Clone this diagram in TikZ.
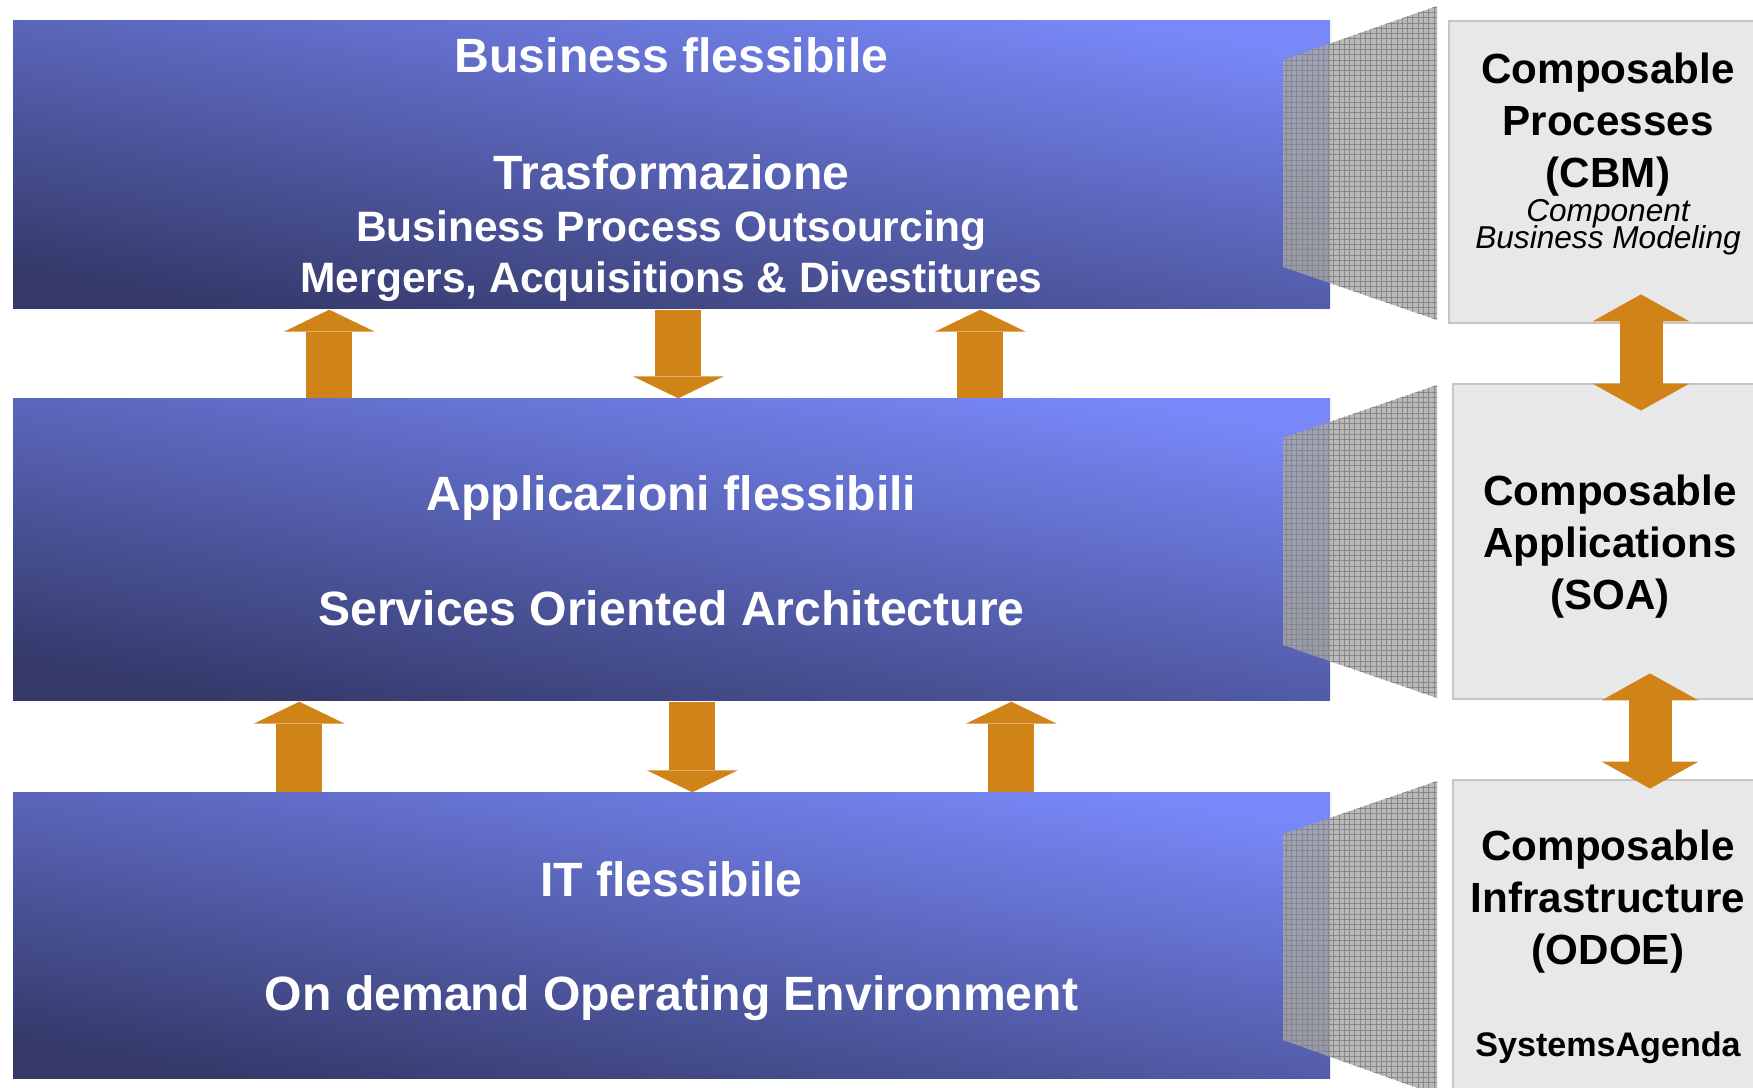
\documentclass[tikz,border=0pt]{standalone}
\usepackage{fontspec}
\setmainfont{Liberation Sans}
\usetikzlibrary{arrows.meta,positioning,calc,patterns.meta}

\definecolor{layerdark}{RGB}{52,57,105}
\definecolor{layerlight}{RGB}{120,136,248}
\definecolor{flowarrow}{RGB}{208,131,22}
\definecolor{meshgray}{RGB}{168,168,168}
\definecolor{meshline}{RGB}{135,135,135}
\definecolor{sidefill}{RGB}{232,232,232}
\definecolor{sideline}{RGB}{198,198,198}

\begin{document}
\begin{tikzpicture}[
  x=0.1mm, y=-0.1mm,
  layer/.style={rectangle,inner sep=0pt,minimum width=131.7mm,
    bottom color=layerdark,top color=layerlight,shading angle=-10},
  side/.style={rectangle,inner sep=0pt,fill=sidefill,draw=sideline,line width=0.8pt},
  mesh/.style={fill=meshgray,fill opacity=.8},
  grid/.style={pattern={Hatch[angle=0,distance=1.5pt,line width=.25pt]},pattern color=meshline},
  head/.style={text=white,anchor=base,inner sep=0pt,font=\bfseries\fontsize{13.7}{16}\selectfont},
  sub/.style={text=white,anchor=base,inner sep=0pt,font=\bfseries\fontsize{12.1}{14}\selectfont},
  comp/.style={anchor=north,align=center,inner sep=0pt,font=\bfseries\fontsize{12}{14.8}\selectfont},
  note/.style={anchor=base,inner sep=0pt,font=\itshape\fontsize{9}{10}\selectfont},
  flow/.style={draw=flowarrow,line width=4.6mm,-{Triangle[length=2.2mm,width=9.1mm,line width=0pt]}},
  both/.style={draw=flowarrow,line width=4.3mm,
    {Triangle[length=2.7mm,width=9.7mm,line width=0pt]}-{Triangle[length=2.7mm,width=9.7mm,line width=0pt]}}
]
\useasboundingbox (0,0) rectangle (1753,1088);
\clip (0,0) rectangle (1753,1088);

% the three layers
\node[layer,minimum height=28.8mm] (biz)   at (671.5,165) {};
\node[layer,minimum height=30.2mm] (app)   at (671.5,550) {};
\node[layer,minimum height=28.6mm] (infra) at (671.5,936) {};

% meshed wings
\fill[mesh] (1283,60) -- (1437,6) -- (1437,320) -- (1283,267) -- cycle;
\path[grid] (1283,60) -- (1437,6) -- (1437,320) -- (1283,267) -- cycle;
\fill[mesh] (1283,438) -- (1437,385) -- (1437,698) -- (1283,645) -- cycle;
\path[grid] (1283,438) -- (1437,385) -- (1437,698) -- (1283,645) -- cycle;
\fill[mesh] (1283,834) -- (1437,781) -- (1437,1095) -- (1283,1040) -- cycle;
\path[grid] (1283,834) -- (1437,781) -- (1437,1095) -- (1283,1040) -- cycle;

% composable boxes
\node[side,minimum width=32.1mm,minimum height=30.2mm] (cbmbox)  at (1609.5,172) {};
\node[side,minimum width=31.7mm,minimum height=31.5mm] (soabox)  at (1611.5,541.5) {};
\node[side,minimum width=31.7mm,minimum height=32mm]   (odoebox) at (1611.5,940) {};

% flows between layers
\draw[flow] ([xshift=31.7mm]app.north west) -- ([xshift=31.7mm]biz.south west);
\draw[flow] ([xshift=66.6mm]biz.south west) -- ([xshift=66.6mm]app.north west);
\draw[flow] ([xshift=96.8mm]app.north west) -- ([xshift=96.8mm]biz.south west);
\draw[flow] ([xshift=28.7mm]infra.north west) -- ([xshift=28.7mm]app.south west);
\draw[flow] ([xshift=68mm]app.south west) -- ([xshift=68mm]infra.north west);
\draw[flow] ([xshift=99.9mm]infra.north west) -- ([xshift=99.9mm]app.south west);

\draw[both] ([xshift=3.15mm,yshift=3mm]cbmbox.south) -- ([xshift=2.95mm,yshift=-2.8mm]soabox.north);
\draw[both] ([xshift=3.85mm,yshift=2.7mm]soabox.south) -- ([xshift=3.85mm,yshift=-1mm]odoebox.north);

% layer texts
\node[head] (biztxt)   at (671.5,73)   {Business flessibile};
\node[head] (trasf)    at (671.5,190)  {Trasformazione};
\node[sub]  (bpo)      at (671.5,242)  {Business Process Outsourcing};
\node[sub]  (mad)      at (671.5,293)  {Mergers, Acquisitions \& Divestitures};
\node[head] (apptxt)   at (671.5,511)  {Applicazioni flessibili};
\node[head] (soatxt)   at (671.5,626)  {Services Oriented Architecture};
\node[head] (ittxt)    at (671.5,897)  {IT flessibile};
\node[head] (odoetxt)  at (671.5,1011) {On demand Operating Environment};

% composable texts
\node[comp] (cbmlab)  at (1608,52)  {Composable\\Processes\\(CBM)};
\node[note] (cbmnote) at (1608,222) {Component};
\node[note] (cbmmod)  at (1608,249) {Business Modeling};
\node[comp] (soalab)  at (1610,474) {Composable\\Applications\\(SOA)};
\node[comp] (odoelab) at (1608,829) {Composable\\Infrastructure\\(ODOE)};
\node[anchor=base,inner sep=0pt,font=\bfseries\fontsize{9.7}{11}\selectfont] (agenda) at (1608,1057) {SystemsAgenda};
\end{tikzpicture}
\end{document}
